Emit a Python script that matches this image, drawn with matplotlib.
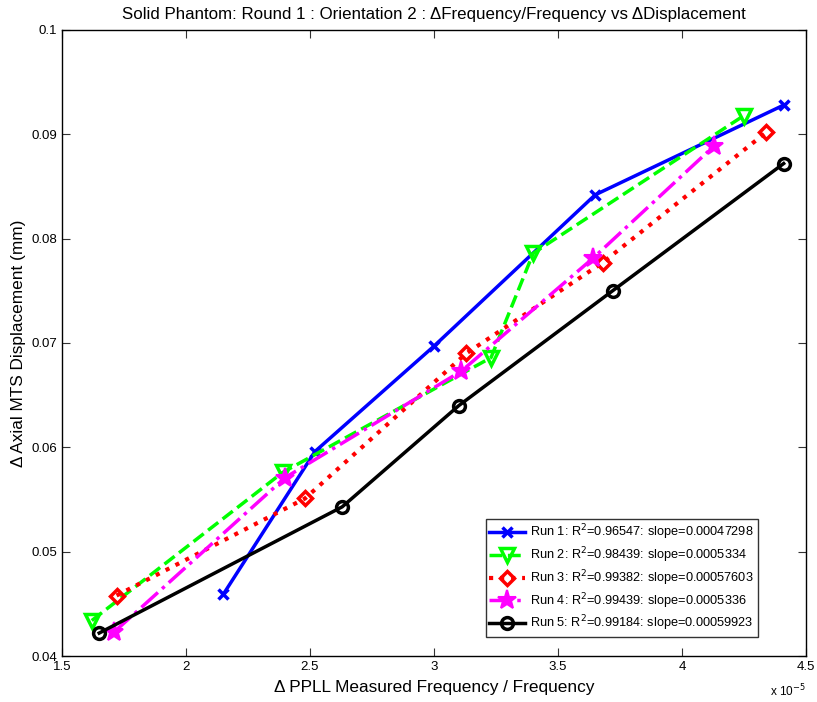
import matplotlib
matplotlib.use("Agg")
import matplotlib.pyplot as plt
from matplotlib.ticker import FuncFormatter, MultipleLocator

plt.rcParams['font.family'] = ['Liberation Sans', 'DejaVu Sans']

# x values in units of 1e-5
run1_x = [2.15, 2.52, 3.00, 3.65, 4.41]
run1_y = [0.0459, 0.0596, 0.0697, 0.0842, 0.0928]
run2_x = [1.62, 2.39, 3.23, 3.40, 4.25]
run2_y = [0.0434, 0.0576, 0.0686, 0.0786, 0.0918]
run3_x = [1.72, 2.48, 3.13, 3.68, 4.34]
run3_y = [0.0458, 0.0551, 0.0690, 0.0777, 0.0902]
run4_x = [1.71, 2.40, 3.11, 3.64, 4.13]
run4_y = [0.0423, 0.0571, 0.0673, 0.0781, 0.0889]
run5_x = [1.65, 2.63, 3.10, 3.72, 4.41]
run5_y = [0.0422, 0.0543, 0.0640, 0.0750, 0.0872]

labels = [
    "Run 1: R$^2$=0.96547: slope=0.00047298",
    "Run 2: R$^2$=0.98439: slope=0.0005334",
    "Run 3: R$^2$=0.99382: slope=0.00057603",
    "Run 4: R$^2$=0.99439: slope=0.0005336",
    "Run 5: R$^2$=0.99184: slope=0.00059923",
]

fig = plt.figure(figsize=(8.17, 7.02), dpi=100)
ax = fig.add_axes([0.0759, 0.0655, 0.9106, 0.8918])

ax.plot(run1_x, run1_y, '-', color='#0000ff', lw=2.5, marker='x', ms=7, mew=2.5, label=labels[0])
ax.plot(run2_x, run2_y, '--', color='#00ff00', lw=2.5, marker='v', ms=10, mew=2.5, mfc='none', label=labels[1])
ax.plot(run3_x, run3_y, ':', color='#ff0000', lw=3, marker='D', ms=7.5, mew=2.5, mfc='none', label=labels[2])
ax.plot(run4_x, run4_y, '-.', color='#ff00ff', lw=2.5, marker='*', ms=14, mew=1.5, label=labels[3])
ax.plot(run5_x, run5_y, '-', color='#000000', lw=2.5, marker='o', ms=8.5, mew=2.5, mfc='none', label=labels[4])

ax.set_xlim(1.5, 4.5)
ax.set_ylim(0.04, 0.1)
ax.xaxis.set_major_locator(MultipleLocator(0.5))
ax.yaxis.set_major_locator(MultipleLocator(0.01))
ax.xaxis.set_major_formatter(FuncFormatter(lambda v, p: f"{v:g}"))
ax.yaxis.set_major_formatter(FuncFormatter(lambda v, p: f"{round(v, 4):g}"))
ax.tick_params(direction='in', top=True, right=True, length=6, labelsize=9.5, color='#333333')
for s in ax.spines.values():
    s.set_linewidth(1.0)

ax.set_title("Solid Phantom: Round 1 : Orientation 2 : \u0394Frequency/Frequency vs \u0394Displacement",
             fontsize=12.2, pad=8)
ax.set_xlabel("\u0394 PPLL Measured Frequency / Frequency", fontsize=12.4, labelpad=5)
ax.set_ylabel("\u0394 Axial MTS Displacement (mm)", fontsize=12.4)
ax.text(1.0, -0.042, "x 10$^{-5}$", transform=ax.transAxes, ha='right', va='top', fontsize=8.5)

leg = ax.legend(loc='lower right', bbox_to_anchor=(0.935, 0.03), fontsize=9.2, frameon=True,
                fancybox=False, edgecolor='black', handlelength=2.8, borderaxespad=0,
                labelspacing=0.25, handletextpad=0.4, borderpad=0.3)
leg.get_frame().set_linewidth(1.0)

fig.savefig("out.png", dpi=100)
